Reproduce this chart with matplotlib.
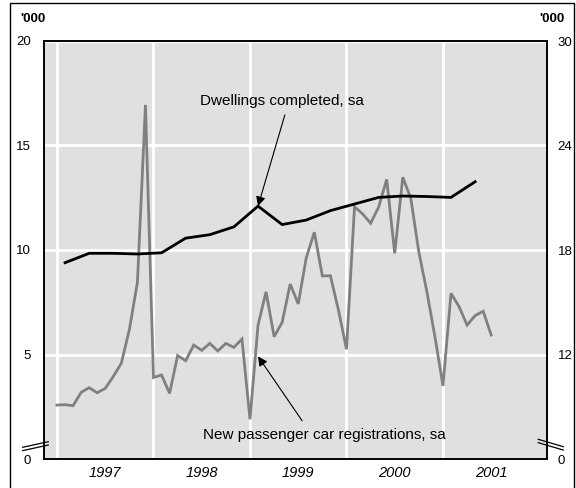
import matplotlib
matplotlib.use('Agg')
from matplotlib import pyplot as plt
from matplotlib.patches import Rectangle

plt.rcParams['font.family'] = ['Liberation Sans', 'DejaVu Sans']

# monthly new passenger car registrations, '000 (left axis), Jan 1997 - Jul 2001
cars = [2.58, 2.6, 2.55, 3.19, 3.41, 3.17, 3.38, 3.95, 4.58, 6.2, 8.45, 16.94,
        3.9, 4.02, 3.14, 4.95, 4.7, 5.45, 5.2, 5.53, 5.17, 5.53, 5.34, 5.74,
        1.9, 6.41, 8.0, 5.85, 6.54, 8.37, 7.42, 9.63, 10.85, 8.76, 8.77, 7.13,
        5.25, 12.07, 11.73, 11.28, 12.05, 13.38, 9.84, 13.48, 12.47, 9.9, 8.0, 5.85,
        3.5, 7.93, 7.29, 6.41, 6.86, 7.07, 5.93]
# quarterly dwellings completed, '000 (right axis), Q1 1997 - Q2 2001
dwellings = [17.27, 17.81, 17.81, 17.77, 17.84, 18.68, 18.88, 19.33, 20.52,
             19.46, 19.72, 20.26, 20.64, 21.02, 21.1, 21.07, 21.02, 21.92]

years = [1997, 1998, 1999, 2000, 2001]
left_ticks = [0, 5, 10, 15, 20]
left_labels = ['0', '5', '10', '15', '20']
right_ticks = [6, 12, 18, 24, 30]
right_labels = ['0', '12', '18', '24', '30']

x_cars = [1997 + i / 12 for i in range(len(cars))]
x_dw = [1997 + (1 + 3 * k) / 12 for k in range(len(dwellings))]

fig = plt.figure(figsize=(5.76, 4.88), dpi=100)
ax = fig.add_axes([43.5 / 576, 1 - 459 / 488, 503 / 576, 418 / 488])
ax2 = ax.twinx()

ax.set_facecolor('#e0e0e0')
ax.set_xlim(1996.86, 2002.073)
ax.set_ylim(0, 20)
ax2.set_ylim(6, 30)

ax.set_xticks(years)
ax.set_xticklabels([])
ax.set_xticks([y + 0.5 for y in years], minor=True)
ax.set_xticklabels([str(y) for y in years], minor=True, style='italic', fontsize=10.5)
ax.tick_params(axis='x', which='both', length=0, pad=5)
ax.set_yticks(left_ticks)
ax.set_yticklabels(left_labels, fontsize=9.5)
ax.tick_params(axis='y', length=0, pad=9)
ax2.set_yticks(right_ticks)
ax2.set_yticklabels(right_labels, fontsize=9.5)
ax2.tick_params(axis='y', length=0, pad=8)

ax.grid(True, which='major', color='white', lw=2)
ax.set_axisbelow(True)
for sp in list(ax.spines.values()) + list(ax2.spines.values()):
    sp.set_linewidth(1.2)

ax.plot(x_cars, cars, color='#808080', lw=2, solid_joinstyle='miter')
ax2.plot(x_dw, dwellings, color='black', lw=2)

ax2.annotate('Dwellings completed, sa', xy=(x_dw[8], dwellings[8]), xytext=(0.474, 0.856),
             textcoords='axes fraction', fontsize=11, ha='center', va='center',
             arrowprops=dict(arrowstyle='-|>', color='black', lw=0.8, mutation_scale=14,
                             shrinkA=3, shrinkB=0, relpos=(0.53, 0)))
ax.annotate('New passenger car registrations, sa', xy=(x_cars[25], cars[25] - 1.5),
            xytext=(0.558, 0.057), textcoords='axes fraction', fontsize=11,
            ha='center', va='center',
            arrowprops=dict(arrowstyle='-|>', color='black', lw=0.8, mutation_scale=14,
                            shrinkA=4, shrinkB=0, relpos=(0.43, 1)))

# axis break marks
for dy in (0, -0.008):
    ax.plot([-0.0414, 0.0095], [0.028 + dy, 0.0414 + dy], color='black', lw=0.9,
            transform=ax.transAxes, clip_on=False)
    ax.plot([0.9837, 1.0334], [0.0471 + dy, 0.0294 + dy], color='black', lw=0.9,
            transform=ax.transAxes, clip_on=False)

fig.text(20 / 576, 1 - 19 / 488, "'000", fontsize=9.5, fontweight='bold', va='center')
fig.text(565 / 576, 1 - 19 / 488, "'000", fontsize=9.5, fontweight='bold', va='center',
         ha='right')

fig.patches.append(Rectangle((10 / 576, -0.01), 564 / 576, 1.01 - 3 / 488, fill=False,
                             edgecolor='black', lw=1, transform=fig.transFigure))

fig.savefig('out.png', dpi=100)
